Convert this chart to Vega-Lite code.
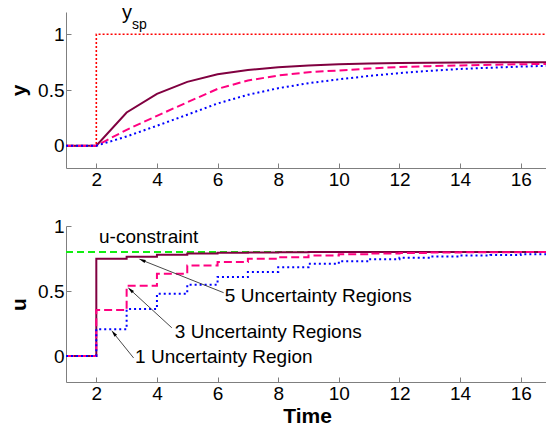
{
  "$schema": "https://vega.github.io/schema/vega-lite/v6.json",
  "background": "white",
  "padding": {"left": 8, "top": 2, "right": 0, "bottom": 0},
  "spacing": 58,
  "bounds": "flush",
  "config": {
    "font": "Liberation Sans",
    "view": {"stroke": null},
    "axis": {
      "grid": false,
      "domainColor": "#7f7f7f",
      "tickColor": "#7f7f7f",
      "tickSize": -5,
      "labelPadding": 7,
      "labelFontSize": 19,
      "labelColor": "black",
      "labelFont": "Liberation Sans",
      "titleFont": "Liberation Sans",
      "titleFontSize": 21,
      "titleFontWeight": "bold",
      "titleColor": "black"
    }
  },
  "datasets": {
    "ysp": [
      {"t": 1, "y": 0}, {"t": 2, "y": 0}, {"t": 2, "y": 1}, {"t": 17, "y": 1}
    ],
    "resp": [
      {"t": 1, "r5": 0, "r3": 0, "r1": 0},
      {"t": 2, "r5": 0, "r3": 0, "r1": 0},
      {"t": 3, "r5": 0.298, "r3": 0.143, "r1": 0.083},
      {"t": 4, "r5": 0.465, "r3": 0.268, "r1": 0.179},
      {"t": 5, "r5": 0.573, "r3": 0.39, "r1": 0.278},
      {"t": 6, "r5": 0.642, "r3": 0.51, "r1": 0.379},
      {"t": 7, "r5": 0.68, "r3": 0.585, "r1": 0.457},
      {"t": 8, "r5": 0.704, "r3": 0.63, "r1": 0.516},
      {"t": 9, "r5": 0.719, "r3": 0.66, "r1": 0.561},
      {"t": 10, "r5": 0.731, "r3": 0.675, "r1": 0.596},
      {"t": 11, "r5": 0.737, "r3": 0.693, "r1": 0.626},
      {"t": 12, "r5": 0.742, "r3": 0.707, "r1": 0.652},
      {"t": 13, "r5": 0.745, "r3": 0.714, "r1": 0.672},
      {"t": 14, "r5": 0.747, "r3": 0.72, "r1": 0.689},
      {"t": 15, "r5": 0.748, "r3": 0.726, "r1": 0.7},
      {"t": 16, "r5": 0.749, "r3": 0.731, "r1": 0.71},
      {"t": 17, "r5": 0.75, "r3": 0.735, "r1": 0.718}
    ],
    "ctrl": [
      {"t": 1, "u5": 0, "u3": 0, "u1": 0},
      {"t": 2, "u5": 0.748, "u3": 0.353, "u1": 0.206},
      {"t": 3, "u5": 0.763, "u3": 0.541, "u1": 0.361},
      {"t": 4, "u5": 0.779, "u3": 0.632, "u1": 0.479},
      {"t": 5, "u5": 0.789, "u3": 0.696, "u1": 0.549},
      {"t": 6, "u5": 0.795, "u3": 0.724, "u1": 0.608},
      {"t": 7, "u5": 0.797, "u3": 0.748, "u1": 0.647},
      {"t": 8, "u5": 0.798, "u3": 0.76, "u1": 0.683},
      {"t": 9, "u5": 0.8, "u3": 0.773, "u1": 0.709},
      {"t": 10, "u5": 0.8, "u3": 0.783, "u1": 0.729},
      {"t": 11, "u5": 0.8, "u3": 0.789, "u1": 0.745},
      {"t": 12, "u5": 0.8, "u3": 0.793, "u1": 0.756},
      {"t": 13, "u5": 0.8, "u3": 0.796, "u1": 0.766},
      {"t": 14, "u5": 0.8, "u3": 0.798, "u1": 0.773},
      {"t": 15, "u5": 0.8, "u3": 0.799, "u1": 0.776},
      {"t": 16, "u5": 0.8, "u3": 0.8, "u1": 0.782},
      {"t": 17, "u5": 0.8, "u3": 0.8, "u1": 0.782}
    ],
    "constraint": [
      {"t": 1, "u": 0.8}, {"t": 17, "u": 0.8}
    ],
    "notes": [
      {"label": "u-constraint", "t": 2.09, "u": 0.913},
      {"label": "5 Uncertainty Regions", "t": 6.24, "u": 0.46},
      {"label": "3 Uncertainty Regions", "t": 4.59, "u": 0.188},
      {"label": "1 Uncertainty Region", "t": 3.28, "u": -0.005}
    ],
    "arrows": [
      {"id": "a5", "t": 6.2, "u": 0.487, "t2": 3.505, "u2": 0.737},
      {"id": "a3", "t": 4.49, "u": 0.217, "t2": 3.12, "u2": 0.51},
      {"id": "a1", "t": 3.23, "u": -0.015, "t2": 2.57, "u2": 0.176}
    ],
    "ylab": [
      {"main": "y", "sub": "sp", "t": 2.85, "ts": 3.18, "y": 1.14, "ys": 1.05}
    ]
  },
  "vconcat": [
    {
      "width": 482,
      "height": 156,
      "layer": [
        {
          "data": {"name": "ysp"},
          "mark": {"type": "line", "color": "#ff0000", "strokeWidth": 1.6, "strokeDash": [2, 2], "clip": true},
          "encoding": {
            "x": {"field": "t", "type": "quantitative", "scale": {"domain": [1, 16.9], "nice": false, "zero": false},
                  "axis": {"values": [2, 4, 6, 8, 10, 12, 14, 16], "title": null}},
            "y": {"field": "y", "type": "quantitative", "scale": {"domain": [-0.2, 1.2], "nice": false, "zero": false},
                  "axis": {"values": [0, 0.5, 1], "labelExpr": "datum.value + ''", "title": "y", "titlePadding": 8}}
          }
        },
        {
          "data": {"name": "resp"},
          "mark": {"type": "line", "color": "#800040", "strokeWidth": 2, "clip": true},
          "encoding": {"x": {"field": "t", "type": "quantitative"}, "y": {"field": "r5", "type": "quantitative"}}
        },
        {
          "data": {"name": "resp"},
          "mark": {"type": "line", "color": "#ff0080", "strokeWidth": 2, "strokeDash": [8, 4], "clip": true},
          "encoding": {"x": {"field": "t", "type": "quantitative"}, "y": {"field": "r3", "type": "quantitative"}}
        },
        {
          "data": {"name": "resp"},
          "mark": {"type": "line", "color": "#0000ff", "strokeWidth": 2, "strokeDash": [2, 3], "clip": true},
          "encoding": {"x": {"field": "t", "type": "quantitative"}, "y": {"field": "r1", "type": "quantitative"}}
        },
        {
          "data": {"name": "ylab"},
          "mark": {"type": "text", "align": "left", "baseline": "alphabetic", "fontSize": 20, "color": "black"},
          "encoding": {"x": {"field": "t", "type": "quantitative"}, "y": {"field": "y", "type": "quantitative"}, "text": {"field": "main"}}
        },
        {
          "data": {"name": "ylab"},
          "mark": {"type": "text", "align": "left", "baseline": "alphabetic", "fontSize": 14, "color": "black"},
          "encoding": {"x": {"field": "ts", "type": "quantitative"}, "y": {"field": "ys", "type": "quantitative"}, "text": {"field": "sub"}}
        }
      ]
    },
    {
      "width": 482,
      "height": 156,
      "layer": [
        {
          "data": {"name": "constraint"},
          "mark": {"type": "line", "color": "#11ee11", "strokeWidth": 2, "strokeDash": [7, 4], "clip": true},
          "encoding": {
            "x": {"field": "t", "type": "quantitative", "scale": {"domain": [1, 16.9], "nice": false, "zero": false},
                  "axis": {"values": [2, 4, 6, 8, 10, 12, 14, 16], "title": "Time", "titlePadding": 2}},
            "y": {"field": "u", "type": "quantitative", "scale": {"domain": [-0.2, 1], "nice": false, "zero": false},
                  "axis": {"values": [0, 0.5, 1], "labelExpr": "datum.value + ''", "title": "u", "titlePadding": 8}}
          }
        },
        {
          "data": {"name": "ctrl"},
          "mark": {"type": "line", "color": "#800040", "strokeWidth": 2, "interpolate": "step-after", "clip": true},
          "encoding": {"x": {"field": "t", "type": "quantitative"}, "y": {"field": "u5", "type": "quantitative"}}
        },
        {
          "data": {"name": "ctrl"},
          "mark": {"type": "line", "color": "#ff0080", "strokeWidth": 2, "strokeDash": [8, 4], "interpolate": "step-after", "clip": true},
          "encoding": {"x": {"field": "t", "type": "quantitative"}, "y": {"field": "u3", "type": "quantitative"}}
        },
        {
          "data": {"name": "ctrl"},
          "mark": {"type": "line", "color": "#0000ff", "strokeWidth": 2, "strokeDash": [2, 3], "interpolate": "step-after", "clip": true},
          "encoding": {"x": {"field": "t", "type": "quantitative"}, "y": {"field": "u1", "type": "quantitative"}}
        },
        {
          "data": {"name": "arrows"},
          "mark": {"type": "rule", "color": "#333333", "strokeWidth": 0.9},
          "encoding": {
            "x": {"field": "t", "type": "quantitative"}, "y": {"field": "u", "type": "quantitative"},
            "x2": {"field": "t2"}, "y2": {"field": "u2"}
          }
        },
        {
          "data": {"name": "arrows"},
          "transform": [{"filter": "datum.id == 'a5'"}],
          "mark": {"type": "point", "shape": "M0,-1L0.45,1L-0.45,1Z", "filled": true, "color": "black", "opacity": 1, "size": 50, "angle": 292},
          "encoding": {"x": {"field": "t2", "type": "quantitative"}, "y": {"field": "u2", "type": "quantitative"}}
        },
        {
          "data": {"name": "arrows"},
          "transform": [{"filter": "datum.id == 'a3'"}],
          "mark": {"type": "point", "shape": "M0,-1L0.45,1L-0.45,1Z", "filled": true, "color": "black", "opacity": 1, "size": 50, "angle": 312},
          "encoding": {"x": {"field": "t2", "type": "quantitative"}, "y": {"field": "u2", "type": "quantitative"}}
        },
        {
          "data": {"name": "arrows"},
          "transform": [{"filter": "datum.id == 'a1'"}],
          "mark": {"type": "point", "shape": "M0,-1L0.45,1L-0.45,1Z", "filled": true, "color": "black", "opacity": 1, "size": 50, "angle": 321},
          "encoding": {"x": {"field": "t2", "type": "quantitative"}, "y": {"field": "u2", "type": "quantitative"}}
        },
        {
          "data": {"name": "notes"},
          "mark": {"type": "text", "align": "left", "baseline": "middle", "fontSize": 19, "color": "black"},
          "encoding": {"x": {"field": "t", "type": "quantitative"}, "y": {"field": "u", "type": "quantitative"}, "text": {"field": "label"}}
        }
      ]
    }
  ]
}
